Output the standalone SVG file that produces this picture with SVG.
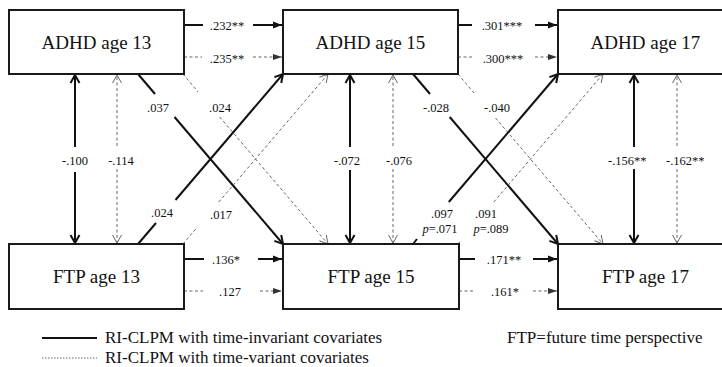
<svg xmlns="http://www.w3.org/2000/svg" width="722" height="367" viewBox="0 0 722 367" font-family="'Liberation Serif', 'Times New Roman', serif">
<style>
text{fill:#111;font-family:"Liberation Serif","Times New Roman",serif}
.box{fill:#fff;stroke:#1a1a1a;stroke-width:2}
.bt{font-size:19px;text-anchor:middle}
.lb{font-size:12.5px;text-anchor:middle}
.lg{font-size:17px}
.s{stroke:#111;stroke-width:2;fill:none}
.d{stroke:#666;stroke-width:1;stroke-dasharray:3,2.5;fill:none}
</style>
<defs>
<marker id="tri" markerUnits="userSpaceOnUse" markerWidth="10" markerHeight="8" refX="9" refY="4" orient="auto"><path d="M0,0.5 L9,4 L0,7.5 z" fill="#111"/></marker>
<marker id="trid" markerUnits="userSpaceOnUse" markerWidth="10" markerHeight="8" refX="9" refY="4" orient="auto"><path d="M0,1 L9,4 L0,7 z" fill="#333"/></marker>
<marker id="ch" markerUnits="userSpaceOnUse" markerWidth="12" markerHeight="12" refX="9" refY="6" orient="auto-start-reverse"><path d="M1,1.5 L9,6 L1,10.5" fill="none" stroke="#111" stroke-width="2"/></marker>
<marker id="chd" markerUnits="userSpaceOnUse" markerWidth="12" markerHeight="12" refX="9" refY="6" orient="auto-start-reverse"><path d="M1,1.5 L9,6 L1,10.5" fill="none" stroke="#666" stroke-width="1"/></marker>
</defs>
<g id="connectors">
<path class="s" d="M184,25 H203"/><path class="s" d="M253,25 H282" marker-end="url(#tri)"/>
<path class="d" d="M184,57 H202"/><path class="d" d="M253,57 H282" marker-end="url(#trid)"/>
<path class="s" d="M458,25 H472"/><path class="s" d="M535,25 H557" marker-end="url(#tri)"/>
<path class="d" d="M458,57 H472"/><path class="d" d="M535,57 H557" marker-end="url(#trid)"/>
<path class="s" d="M184,259 H204"/><path class="s" d="M258,259 H282" marker-end="url(#tri)"/>
<path class="d" d="M184,291 H203"/><path class="d" d="M260,291 H282" marker-end="url(#trid)"/>
<path class="s" d="M459,259 H475"/><path class="s" d="M533,259 H557" marker-end="url(#tri)"/>
<path class="d" d="M459,291 H475"/><path class="d" d="M533,291 H557" marker-end="url(#trid)"/>
<path class="s" d="M75,147 V75" marker-end="url(#ch)"/><path class="s" d="M75,172 V243" marker-end="url(#ch)"/>
<path class="d" d="M117,146 V75" marker-end="url(#chd)"/><path class="d" d="M117,169 V243" marker-end="url(#chd)"/>
<path class="s" d="M350,147 V75" marker-end="url(#ch)"/><path class="s" d="M350,170 V243" marker-end="url(#ch)"/>
<path class="d" d="M393,146 V75" marker-end="url(#chd)"/><path class="d" d="M393,169 V243" marker-end="url(#chd)"/>
<path class="s" d="M634,147 V75" marker-end="url(#ch)"/><path class="s" d="M634,169 V243" marker-end="url(#ch)"/>
<path class="d" d="M677,146 V75" marker-end="url(#chd)"/><path class="d" d="M677,169 V243" marker-end="url(#chd)"/>
<path class="s" d="M138,74 L155,94"/><path class="s" d="M174.5,117 L283,244" marker-end="url(#ch)"/>
<path class="d" d="M183,74 L198,92"/><path class="d" d="M219.7,117 L328,244" marker-end="url(#chd)"/>
<path class="s" d="M138,244 L156,223"/><path class="s" d="M175.5,200 L283,74" marker-end="url(#ch)"/>
<path class="d" d="M183,244 L197.5,227"/><path class="d" d="M218.8,202 L328,74" marker-end="url(#chd)"/>
<path class="s" d="M413,74 L430,94"/><path class="s" d="M449.7,117 L558,244" marker-end="url(#ch)"/>
<path class="d" d="M458,74 L474,93"/><path class="d" d="M495.5,118 L603,244" marker-end="url(#chd)"/>
<path class="s" d="M413,244 L417,239"/><path class="s" d="M448.8,202 L558,74" marker-end="url(#ch)"/>
<path class="d" d="M458,244 L461,240.5"/><path class="d" d="M493.8,202 L603,74" marker-end="url(#chd)"/>
</g>
<g id="labels">
<text class="lb" x="227" y="30">.232**</text>
<text class="lb" x="227" y="63">.235**</text>
<text class="lb" x="502" y="30">.301***</text>
<text class="lb" x="503" y="63">.300***</text>
<text class="lb" x="226" y="264">.136*</text>
<text class="lb" x="230" y="296">.127</text>
<text class="lb" x="504" y="264">.171**</text>
<text class="lb" x="505" y="296">.161*</text>
<text class="lb" x="75" y="165">-.100</text>
<text class="lb" x="121" y="165">-.114</text>
<text class="lb" x="347" y="165">-.072</text>
<text class="lb" x="399" y="165">-.076</text>
<text class="lb" x="608" y="165" style="text-anchor:start">-.156**</text>
<text class="lb" x="666" y="165" style="text-anchor:start">-.162**</text>
<text class="lb" x="158" y="112">.037</text>
<text class="lb" x="220" y="112">.024</text>
<text class="lb" x="162" y="217">.024</text>
<text class="lb" x="221" y="219">.017</text>
<text class="lb" x="436" y="112">-.028</text>
<text class="lb" x="497" y="112">-.040</text>
<text class="lb" x="442" y="218">.097</text>
<text class="lb" x="440" y="233"><tspan font-style="italic">p</tspan>=.071</text>
<text class="lb" x="486" y="218">.091</text>
<text class="lb" x="491" y="233"><tspan font-style="italic">p</tspan>=.089</text>
</g>
<g id="adhd13"><rect class="box" x="9" y="10" width="175" height="64"/><text class="bt" x="96.5" y="49">ADHD age 13</text></g>
<g id="adhd15"><rect class="box" x="283" y="10" width="175" height="64"/><text class="bt" x="370.5" y="49">ADHD age 15</text></g>
<g id="adhd17"><rect class="box" x="558" y="10" width="175" height="64"/><text class="bt" x="645.5" y="49">ADHD age 17</text></g>
<g id="ftp13"><rect class="box" x="9" y="244" width="175" height="65"/><text class="bt" x="96.5" y="283">FTP age 13</text></g>
<g id="ftp15"><rect class="box" x="283" y="244" width="176" height="65"/><text class="bt" x="371" y="283">FTP age 15</text></g>
<g id="ftp17"><rect class="box" x="558" y="244" width="175" height="65"/><text class="bt" x="645.5" y="283">FTP age 17</text></g>
<g id="legend">
<path class="s" d="M42,338 H97"/>
<path d="M42,358 H97" stroke="#666" stroke-width="1" stroke-dasharray="1.5,1.5"/>
<text class="lg" x="105" y="343">RI-CLPM with time-invariant covariates</text>
<text class="lg" x="105" y="363">RI-CLPM with time-variant covariates</text>
<text class="lg" x="507" y="343">FTP=future time perspective</text>
</g>
</svg>
